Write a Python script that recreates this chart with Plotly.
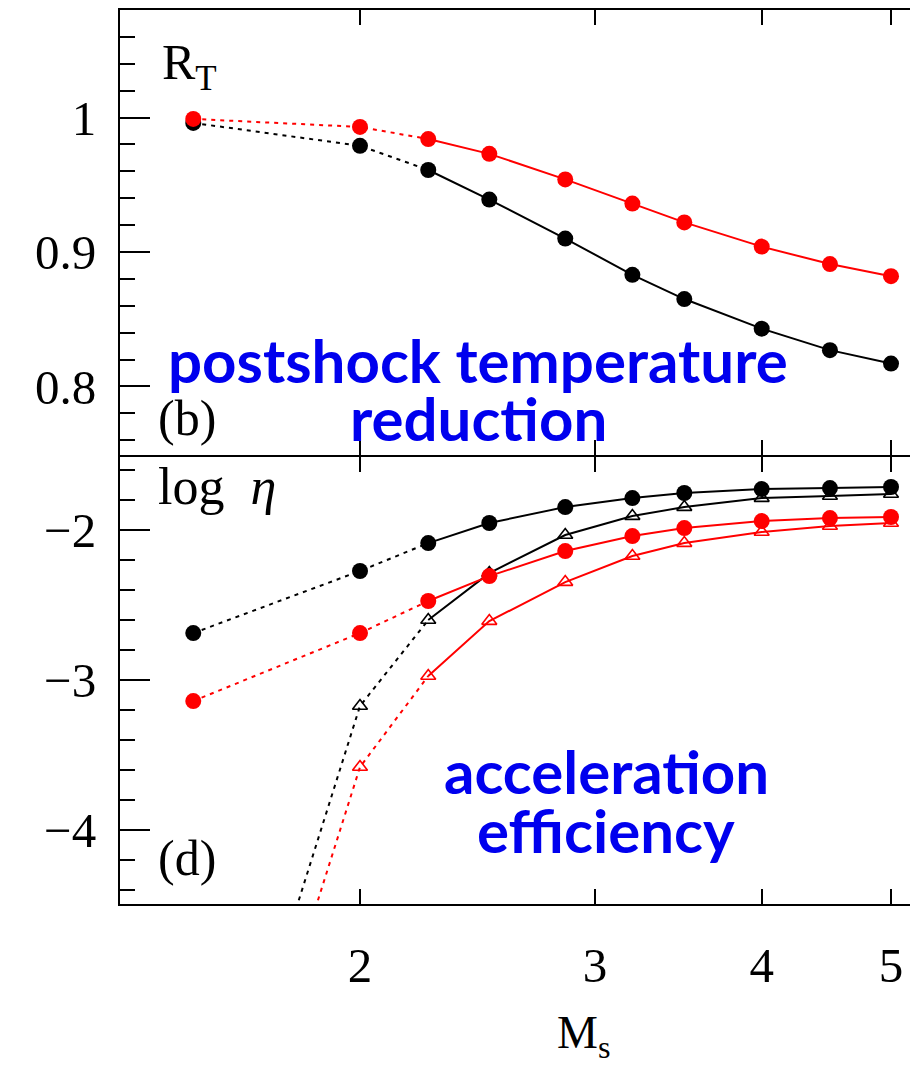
import plotly.graph_objects as go

# ---- data ----
mach = [1.5, 2.0, 2.25, 2.5, 2.85, 3.2, 3.5, 4.0, 4.5, 5.0]

rt_black = [0.996, 0.979, 0.961, 0.939, 0.910, 0.883, 0.865, 0.843, 0.827, 0.817]
rt_red = [0.999, 0.993, 0.984, 0.973, 0.954, 0.936, 0.922, 0.904, 0.891, 0.882]

eta_black_circ = [-2.687, -2.273, -2.087, -1.953, -1.847, -1.787, -1.753, -1.727, -1.720, -1.713]
eta_black_tri = [-6.70, -3.173, -2.600, -2.287, -2.033, -1.907, -1.847, -1.787, -1.773, -1.760]
eta_red_circ = [-3.140, -2.687, -2.473, -2.307, -2.140, -2.040, -1.987, -1.940, -1.920, -1.913]
eta_red_tri = [-7.10, -3.580, -2.973, -2.607, -2.347, -2.173, -2.087, -2.013, -1.973, -1.953]

x_ticks = [2, 3, 4, 5]
x_ticktext = ["2", "3", "4", "5"]
top_yticks = [0.8, 0.9, 1.0]
top_yticktext = ["0.8", "0.9", "1"]
bot_yticks = [-4, -3, -2]
bot_yticktext = ["\u22124", "\u22123", "\u22122"]

# ---- layout constants ----
W, H = 910, 1067
L, R, T, B = 120, 0, 10, 163
PW, PH = W - L - R, H - T - B


def px(x):
    return (x - L) / PW


def py(y):
    return (H - B - y) / PH


SERIF = "Liberation Serif"
XR = [0.12118, 0.71320]
TOP_YR = [0.749, 1.08]
BOT_YR = [-4.493, -1.513]
TOP_DOM = [0.5 + 2 / PH, 1]
BOT_DOM = [0, 0.5]

fig = go.Figure()

DASH = "4px,5px"


def add_series(x, y, color, symbol, msize, xa, ya):
    fig.add_trace(go.Scatter(x=x[:3], y=y[:3], mode="lines",
                             line=dict(color=color, width=2, dash=DASH),
                             xaxis=xa, yaxis=ya, showlegend=False, hoverinfo="skip"))
    fig.add_trace(go.Scatter(x=x[2:], y=y[2:], mode="lines",
                             line=dict(color=color, width=2),
                             xaxis=xa, yaxis=ya, showlegend=False, hoverinfo="skip"))
    if symbol == "circle":
        marker = dict(symbol="circle", size=msize, color=color, line=dict(width=0))
    else:
        marker = dict(symbol="triangle-up-open", size=msize, color=color, line=dict(width=1.6, color=color))
    fig.add_trace(go.Scatter(x=x, y=y, mode="markers", marker=marker,
                             xaxis=xa, yaxis=ya, showlegend=False))


add_series(mach, rt_black, "black", "circle", 16, "x", "y")
add_series(mach, rt_red, "#ff0000", "circle", 16, "x", "y")
add_series(mach, eta_black_circ, "black", "circle", 16, "x2", "y2")
add_series(mach, eta_black_tri, "black", "tri", 13, "x2", "y2")
add_series(mach, eta_red_circ, "#ff0000", "circle", 16, "x2", "y2")
add_series(mach, eta_red_tri, "#ff0000", "tri", 13, "x2", "y2")

xcommon = dict(type="log", range=XR, tickvals=x_ticks, ticktext=x_ticktext,
               ticks="inside", ticklen=15, tickwidth=2, tickcolor="black",
               showline=True, linecolor="black", linewidth=2, mirror="ticks",
               showgrid=False, zeroline=False, domain=[0, 1])
ycommon = dict(ticks="inside", ticklen=30, tickwidth=2, tickcolor="black",
               showline=True, linecolor="black", linewidth=2, mirror=False,
               showgrid=False, zeroline=False,
               tickfont=dict(family=SERIF, size=49, color="black"),
               ticklabelstandoff=12)

fig.update_layout(
    width=W, height=H, margin=dict(l=L, r=R, t=T, b=B),
    paper_bgcolor="white", plot_bgcolor="white",
    xaxis=dict(xcommon, anchor="y", showticklabels=False, matches="x2"),
    xaxis2=dict(xcommon, anchor="y2", showticklabels=True,
                tickfont=dict(family=SERIF, size=49, color="black"),
                ticklabelstandoff=17),
    yaxis=dict(ycommon, domain=TOP_DOM, range=TOP_YR, anchor="x",
               tickvals=top_yticks, ticktext=top_yticktext,
               minor=dict(dtick=0.02, tick0=0, ticks="inside", ticklen=15, tickwidth=2, tickcolor="black")),
    yaxis2=dict(ycommon, domain=BOT_DOM, range=BOT_YR, anchor="x2",
                tickvals=bot_yticks, ticktext=bot_yticktext,
                minor=dict(dtick=0.2, tick0=0, ticks="inside", ticklen=15, tickwidth=2, tickcolor="black")),
    yaxis3=dict(overlaying="y", side="right", anchor="x", range=TOP_YR, tickvals=top_yticks,
                ticks="inside", ticklen=23, tickwidth=2, tickcolor="black",
                showticklabels=False, showline=False, showgrid=False, zeroline=False,
                minor=dict(dtick=0.02, tick0=0, ticks="inside", ticklen=8, tickwidth=2, tickcolor="black")),
    yaxis4=dict(overlaying="y2", side="right", anchor="x2", range=BOT_YR, tickvals=bot_yticks,
                ticks="inside", ticklen=23, tickwidth=2, tickcolor="black",
                showticklabels=False, showline=False, showgrid=False, zeroline=False,
                minor=dict(dtick=0.2, tick0=0, ticks="inside", ticklen=8, tickwidth=2, tickcolor="black")),
)

ann = []


def label(text, x, y, size, xanchor="left", family=SERIF, color="black", weight="normal"):
    ann.append(dict(text=text, x=px(x), y=py(y), xref="paper", yref="paper",
                    xanchor=xanchor, yanchor="middle", showarrow=False,
                    font=dict(family=family, size=size, color=color, weight=weight)))


label("R<sub>T</sub>", 160, 66, 50)
label("(b)", 156, 418, 50)
label("log  <i>η</i> ", 156, 486, 52)
label("(d)", 156, 858, 50)
label("M<sub>s</sub>", 583, 1036, 46, xanchor="center")

BLUE = "#0000ee"
label("postshock temperature", 478, 360, 60, xanchor="center", family="Lato", color=BLUE, weight="bold")
label("reduction", 478, 418, 60, xanchor="center", family="Lato", color=BLUE, weight="bold")
label("acceleration", 606, 771, 60, xanchor="center", family="Lato", color=BLUE, weight="bold")
label("efficiency", 606, 830, 60, xanchor="center", family="Lato", color=BLUE, weight="bold")

fig.update_layout(annotations=ann)

fig.write_html("out.html")
